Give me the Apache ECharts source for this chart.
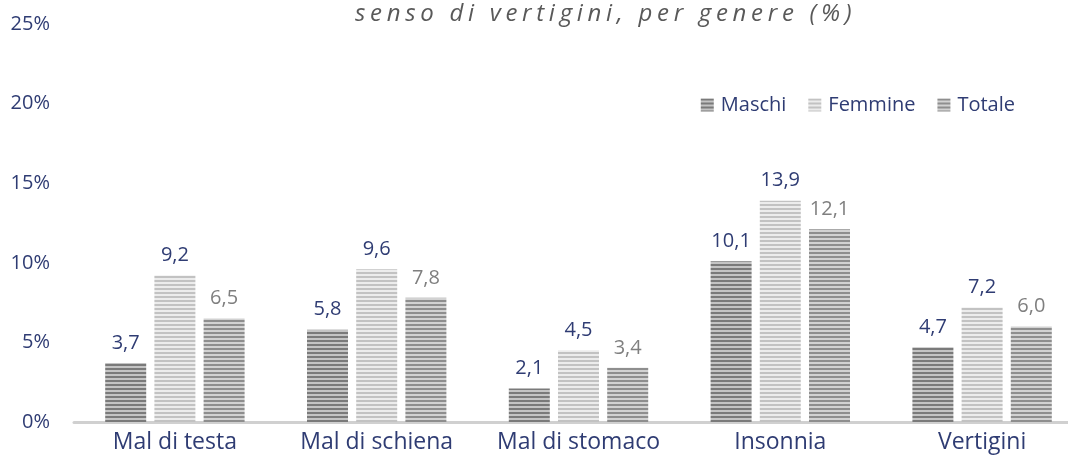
<!DOCTYPE html>
<html lang="it">
<head>
<meta charset="utf-8" />
<title>Disturbi per genere</title>
<script src="https://cdn.jsdelivr.net/npm/echarts@6/dist/echarts.min.js"></script>
<style>
  html, body { margin: 0; padding: 0; background: #fff; }
  #wrap { position: relative; width: 1068px; height: 466px; overflow: hidden; }
  #chart { width: 1068px; height: 466px; }
  #titolo {
    position: absolute; left: 355px; top: -5px; white-space: nowrap;
    font-family: "Open Sans", sans-serif; font-style: italic; font-size: 24px;
    letter-spacing: 4.7px; color: #595959;
  }
</style>
</head>
<body>
<div id="wrap">
  <div id="chart"></div>
  <div id="titolo">senso di vertigini, per genere (%)</div>
</div>
<script>
// dati
var categorie = ['Mal di testa', 'Mal di schiena', 'Mal di stomaco', 'Insonnia', 'Vertigini'];
var maschi = [3.7, 5.8, 2.1, 10.1, 4.7];
var femmine = [9.2, 9.6, 4.5, 13.9, 7.2];
var totale = [6.5, 7.8, 3.4, 12.1, 6.0];

var blu = '#2f3c73';
var font = 'Open Sans';

// texture a righe orizzontali come nel grafico originale
function righe(scuro, chiaro) {
  var c = document.createElement('canvas');
  c.width = 4; c.height = 4;
  var ctx = c.getContext('2d');
  ctx.fillStyle = chiaro; ctx.fillRect(0, 0, 4, 4);
  ctx.fillStyle = scuro; ctx.fillRect(0, 0, 4, 2);
  return { image: c, repeat: 'repeat' };
}

function etichetta(col) {
  return {
    show: true, position: 'top', distance: 10,
    color: col, fontFamily: font, fontSize: 20,
    formatter: function (p) { return p.value.toFixed(1).replace('.', ','); }
  };
}

var chart = echarts.init(document.getElementById('chart'));
chart.setOption({
  animation: false,
  grid: { left: 74, top: 24, width: 1009, bottom: 44, outerBoundsMode: 'none' },
  legend: {
    right: 48, top: 90, itemWidth: 13, itemHeight: 13, itemGap: 22,
    icon: 'rect',
    textStyle: { color: blu, fontFamily: font, fontSize: 20, padding: [0, 0, 0, 2] },
    data: ['Maschi', 'Femmine', 'Totale']
  },
  xAxis: {
    type: 'category', data: categorie,
    axisLine: { lineStyle: { color: '#d0d0d0', width: 3 } },
    axisTick: { show: false },
    axisLabel: { color: blu, fontFamily: font, fontSize: 23, margin: 9, interval: 0, hideOverlap: false }
  },
  yAxis: {
    type: 'value', min: 0, max: 25, interval: 5,
    splitLine: { show: false },
    axisLabel: { color: blu, fontFamily: font, fontSize: 20, margin: 24, formatter: '{value}%' }
  },
  series: [
    { name: 'Maschi', type: 'bar', data: maschi, barWidth: 41, barGap: '20%',
      itemStyle: { color: righe('#7a7a7a', '#c4c4c4') }, label: etichetta(blu) },
    { name: 'Femmine', type: 'bar', data: femmine, barWidth: 41,
      itemStyle: { color: righe('#c2c2c2', '#ececec') }, label: etichetta(blu) },
    { name: 'Totale', type: 'bar', data: totale, barWidth: 41,
      itemStyle: { color: righe('#8e8e8e', '#d2d2d2') }, label: etichetta('#7f7f7f') }
  ]
});
window.onresize = function () { chart.resize(); };
</script>
</body>
</html>
